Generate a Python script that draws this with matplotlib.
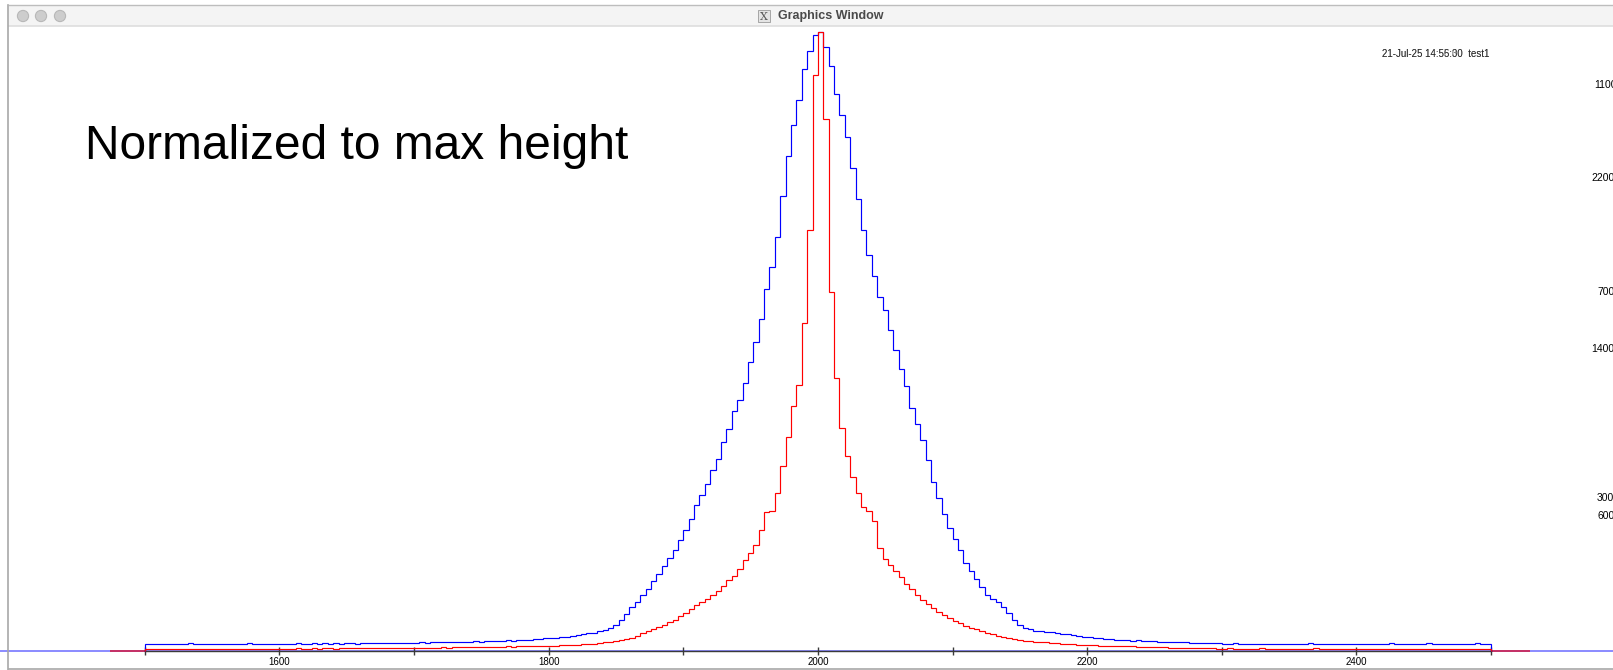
import numpy as np
import matplotlib
matplotlib.use('Agg')
import matplotlib.pyplot as plt
from matplotlib.patches import Rectangle, Circle

plt.rcParams['font.family'] = ['Liberation Sans', 'DejaVu Sans']

# histogram binning
bin_width = 4
x_start, x_stop = 1500, 2500

# broad peak, normalized to max height (25 bins per row = 100 units)
blue_counts = [
    0.0105, 0.0110, 0.0100, 0.0110, 0.0105, 0.0100, 0.0110, 0.0105, 0.0115, 0.0100, 0.0105, 0.0110, 0.0100,
    0.0105, 0.0110, 0.0105, 0.0100, 0.0110, 0.0105, 0.0115, 0.0105, 0.0100, 0.0110, 0.0105, 0.0110,
    0.0105, 0.0110, 0.0105, 0.0115, 0.0110, 0.0105, 0.0115, 0.0110, 0.0120, 0.0110, 0.0115, 0.0110, 0.0120,
    0.0115, 0.0110, 0.0120, 0.0115, 0.0125, 0.0115, 0.0120, 0.0125, 0.0115, 0.0120, 0.0125, 0.0120,
    0.0125, 0.0130, 0.0125, 0.0135, 0.0130, 0.0135, 0.0140, 0.0135, 0.0140, 0.0145, 0.0140, 0.0150, 0.0145,
    0.0155, 0.0150, 0.0160, 0.0155, 0.0165, 0.0160, 0.0170, 0.0175, 0.0170, 0.0180, 0.0185, 0.0195,
    0.0200, 0.0205, 0.0215, 0.0225, 0.0230, 0.0250, 0.0265, 0.0275, 0.0290, 0.0310, 0.0330, 0.0360, 0.0410,
    0.0500, 0.0590, 0.0700, 0.0790, 0.0900, 0.1000, 0.1120, 0.1230, 0.1360, 0.1500, 0.1620, 0.1780,
    0.195, 0.213, 0.236, 0.252, 0.270, 0.292, 0.310, 0.337, 0.358, 0.387, 0.405, 0.432, 0.466,
    0.498, 0.536, 0.584, 0.620, 0.668, 0.735, 0.800, 0.850, 0.890, 0.940, 0.970, 0.995,
    1.000, 0.975, 0.945, 0.900, 0.865, 0.830, 0.780, 0.730, 0.680, 0.640, 0.605, 0.572, 0.550,
    0.518, 0.486, 0.455, 0.428, 0.392, 0.366, 0.340, 0.308, 0.272, 0.246, 0.220, 0.198,
    0.180, 0.162, 0.142, 0.128, 0.115, 0.102, 0.090, 0.083, 0.078, 0.070, 0.060, 0.050, 0.041,
    0.036, 0.034, 0.032, 0.031, 0.030, 0.0295, 0.028, 0.027, 0.026, 0.025, 0.024, 0.0225,
    0.0215, 0.0205, 0.0195, 0.0185, 0.0180, 0.0175, 0.0170, 0.0165, 0.0160, 0.0165, 0.0155, 0.0150, 0.0155,
    0.0145, 0.0140, 0.0145, 0.0135, 0.0130, 0.0135, 0.0125, 0.0120, 0.0125, 0.0115, 0.0120, 0.0115,
    0.0110, 0.0105, 0.0115, 0.0105, 0.0110, 0.0100, 0.0110, 0.0105, 0.0110, 0.0100, 0.0105, 0.0110, 0.0105,
    0.0100, 0.0110, 0.0105, 0.0115, 0.0105, 0.0100, 0.0110, 0.0105, 0.0110, 0.0100, 0.0105, 0.0110,
    0.0105, 0.0110, 0.0100, 0.0105, 0.0110, 0.0105, 0.0115, 0.0105, 0.0110, 0.0100, 0.0105, 0.0110, 0.0105,
    0.0115, 0.0110, 0.0105, 0.0110, 0.0100, 0.0110, 0.0105, 0.0110, 0.0105, 0.0115, 0.0105, 0.0110,
]

# narrow peak, normalized to max height
red_counts = [
    0.0025, 0.0020, 0.0025, 0.0030, 0.0025, 0.0020, 0.0025, 0.0025, 0.0030, 0.0025, 0.0020, 0.0025, 0.0030,
    0.0025, 0.0025, 0.0020, 0.0025, 0.0030, 0.0025, 0.0025, 0.0030, 0.0025, 0.0020, 0.0025, 0.0030,
    0.0030, 0.0025, 0.0030, 0.0035, 0.0030, 0.0030, 0.0035, 0.0030, 0.0035, 0.0035, 0.0030, 0.0035, 0.0040,
    0.0035, 0.0035, 0.0040, 0.0035, 0.0040, 0.0040, 0.0035, 0.0040, 0.0045, 0.0040, 0.0040, 0.0045,
    0.0040, 0.0045, 0.0045, 0.0040, 0.0045, 0.0050, 0.0045, 0.0050, 0.0050, 0.0055, 0.0050, 0.0055, 0.0055,
    0.0060, 0.0055, 0.0060, 0.0060, 0.0065, 0.0060, 0.0065, 0.0065, 0.0070, 0.0065, 0.0070, 0.0070,
    0.0075, 0.0080, 0.0085, 0.0085, 0.0090, 0.0095, 0.0100, 0.0105, 0.0110, 0.0120, 0.0130, 0.0140, 0.0155,
    0.0170, 0.0190, 0.0210, 0.0240, 0.0275, 0.0310, 0.0345, 0.0380, 0.0420, 0.0455, 0.0500, 0.0550,
    0.060, 0.067, 0.073, 0.078, 0.083, 0.089, 0.096, 0.105, 0.114, 0.121, 0.132, 0.146, 0.158,
    0.170, 0.195, 0.224, 0.226, 0.255, 0.298, 0.345, 0.395, 0.430, 0.530, 0.680, 0.930,
    1.000, 0.860, 0.580, 0.440, 0.360, 0.315, 0.280, 0.255, 0.232, 0.226, 0.210, 0.165, 0.148,
    0.138, 0.128, 0.119, 0.108, 0.099, 0.090, 0.082, 0.075, 0.069, 0.063, 0.057, 0.052,
    0.048, 0.044, 0.040, 0.037, 0.034, 0.031, 0.029, 0.026, 0.024, 0.022, 0.020, 0.0185, 0.0170,
    0.0160, 0.0150, 0.0145, 0.0135, 0.0130, 0.0125, 0.0115, 0.0110, 0.0105, 0.0100, 0.0095, 0.0090,
    0.0085, 0.0085, 0.0080, 0.0080, 0.0075, 0.0075, 0.0070, 0.0070, 0.0065, 0.0060, 0.0060, 0.0055, 0.0055,
    0.0050, 0.0050, 0.0045, 0.0045, 0.0040, 0.0045, 0.0040, 0.0035, 0.0040, 0.0035, 0.0035, 0.0030,
    0.0030, 0.0035, 0.0030, 0.0030, 0.0025, 0.0030, 0.0030, 0.0035, 0.0030, 0.0025, 0.0030, 0.0030, 0.0025,
    0.0030, 0.0030, 0.0025, 0.0030, 0.0035, 0.0030, 0.0025, 0.0030, 0.0025, 0.0030, 0.0030, 0.0025,
    0.0025, 0.0030, 0.0025, 0.0025, 0.0030, 0.0025, 0.0020, 0.0025, 0.0030, 0.0025, 0.0025, 0.0020, 0.0025,
    0.0030, 0.0025, 0.0025, 0.0020, 0.0025, 0.0025, 0.0030, 0.0025, 0.0020, 0.0025, 0.0025, 0.0020,
]

# short red pieces of the second histogram's range that stick out past the frame
red_outside = [(1474, 1500), (2500, 2529)]

major_ticks = [1600, 1800, 2000, 2200, 2400]
minor_ticks = [1500, 1700, 1900, 2100, 2300, 2500]

title_text = 'Normalized to max height'
stamp_texts = ['21-Jul-25 14:55:30  test1', '21-Jul-25 14:56:00  test1']
side_labels = ['1100', '2200', '700', '1400', '300', '600']

W, H = 1613, 670
fig = plt.figure(figsize=(W / 100, H / 100), dpi=100, facecolor='white')

# --- histogram frame ---
ax = fig.add_axes([0, 0, 1, 1])
ax.set_facecolor('white')
px_per_unit = (1491.0 - 144.8) / (x_stop - x_start)
ax.set_xlim(x_start - 144.8 / px_per_unit, x_stop + (W - 1491.0) / px_per_unit)
ax.set_ylim(-(H - 650.5) / 618.5, 650.5 / 618.5)

edges = np.arange(x_start, x_stop + bin_width, bin_width)

ax.axhline(0, color='#6b6bff', lw=1.1, zorder=1)
for lo, hi in red_outside:
    ax.hlines(0, lo, hi, color='#d0204a', lw=1.2, zorder=1.5)

ax.stairs(blue_counts, edges, baseline=0, color='#0000ff', lw=0.85, zorder=3)
ax.stairs(red_counts, edges, baseline=0, color='#ff0000', lw=0.85, zorder=3.1)

for side in ['top', 'left', 'right']:
    ax.spines[side].set_visible(False)
ax.spines['bottom'].set_position(('data', 0))
ax.spines['bottom'].set_bounds(x_start, x_stop)
ax.spines['bottom'].set_color('#3a3a3a')
ax.spines['bottom'].set_linewidth(1.0)

ax.set_xticks(major_ticks)
ax.set_xticks(minor_ticks, minor=True)
ax.tick_params(axis='x', which='both', direction='inout', length=6, width=1,
               color='#3a3a3a', labelsize=7, pad=2)
ax.set_yticks([])

# --- window decoration and text, in pixel coordinates ---
deco = fig.add_axes([0, 0, 1, 1], zorder=5)
deco.set_xlim(0, W)
deco.set_ylim(H, 0)
deco.axis('off')
deco.patch.set_visible(False)

deco.add_patch(Rectangle((8.5, 5), W, 21, facecolor='#f4f4f4', edgecolor='none'))
deco.plot([8.5, W], [4.8, 4.8], color='#bdbdbd', lw=1.0)
deco.plot([8.5, W], [25.8, 25.8], color='#dedede', lw=1.2)
deco.plot([8.3, 8.3], [4.8, H], color='#a8a8a8', lw=1.2)
deco.plot([8.5, W], [668.8, 668.8], color='#a8a8a8', lw=1.2)

for cx in [23, 41, 60]:
    deco.add_patch(Circle((cx, 16), 5.6, facecolor='#cdcdcd', edgecolor='#b8b8b8', lw=0.8))

deco.add_patch(Rectangle((758, 10), 12, 12, facecolor='#e4e4e4', edgecolor='#9a9a9a', lw=0.6))
deco.text(764, 16.5, 'X', fontsize=8, family='DejaVu Serif', color='#555555', ha='center', va='center')
deco.text(778, 16.5, 'Graphics Window', fontsize=9, fontweight='bold', color='#4a4a4a', va='center')

deco.text(85, 159, title_text, fontsize=34.5, color='black', va='baseline')

# the stamp is drawn twice, once per histogram, so the seconds overprint
deco.text(1382, 54, stamp_texts[0], fontsize=7, color='black', va='center', alpha=0.6)
deco.text(1382, 54, stamp_texts[1], fontsize=7, color='black', va='center', alpha=0.6)

side_label_x = [1594, 1591, 1597, 1591, 1597, 1597]
side_label_y = [85, 178, 292, 349, 498, 516]
for lab, lx, ly in zip(side_labels, side_label_x, side_label_y):
    deco.text(lx, ly, lab, fontsize=7.5, color='black', va='center')

fig.savefig('out.png', dpi=100, facecolor='white')
